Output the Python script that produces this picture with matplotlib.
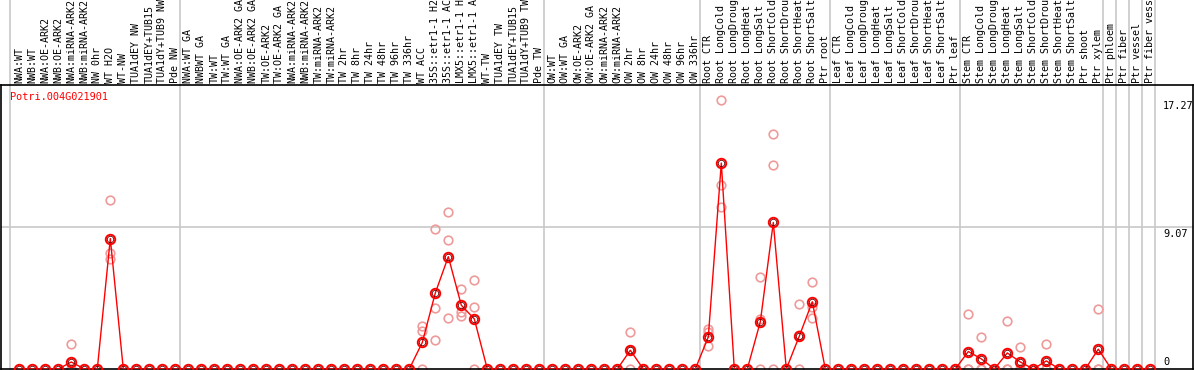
import matplotlib
matplotlib.use("Agg")
import matplotlib.pyplot as plt
import matplotlib.transforms as mtransforms

title = "Potri.004G021901"

labels = [
    "NWA:WT", "NWB:WT", "NWA:OE-ARK2", "NWB:OE-ARK2", "NWA:miRNA-ARK2", "NWB:miRNA-ARK2",
    "NW 0hr", "WT H2O", "WT-NW", "TUA1dEY NW", "TUA1dEY+TUB15", "TUA1dY+TUB9 NW", "Pde NW",
    "NWA:WT GA", "NWBWT GA", "TW:WT", "TW:WT GA", "NWA:OE-ARK2 GA", "NWB:OE-ARK2 GA",
    "TW:OE-ARK2", "TW:OE-ARK2 GA", "NWA:miRNA-ARK2", "NWB:miRNA-ARK2", "TW:miRNA-ARK2",
    "TW:miRNA-ARK2", "TW 2hr", "TW 8hr", "TW 24hr", "TW 48hr", "TW 96hr", "TW 336hr",
    "WT ACC", "35S::etr1-1 H2", "35S::etr1-1 AC", "LMX5::etr1-1 H", "LMX5::etr1-1 A",
    "WT-TW", "TUA1dEY TW", "TUA1dEY+TUB15", "TUA1dY+TUB9 TW", "Pde TW",
    "OW:WT", "OW:WT GA", "OW:OE-ARK2", "OW:OE-ARK2 GA", "OW:miRNA-ARK2", "OW:miRNA-ARK2",
    "OW 2hr", "OW 8hr", "OW 24hr", "OW 48hr", "OW 96hr", "OW 336hr",
    "Root CTR", "Root LongCold", "Root LongDroug", "Root LongHeat", "Root LongSalt",
    "Root ShortCold", "Root ShortDrou", "Root ShortHeat", "Root ShortSalt", "Ptr root",
    "Leaf CTR", "Leaf LongCold", "Leaf LongDroug", "Leaf LongHeat", "Leaf LongSalt",
    "Leaf ShortCold", "Leaf ShortDrou", "Leaf ShortHeat", "Leaf ShortSalt", "Ptr leaf",
    "Stem CTR", "Stem LongCold", "Stem LongDroug", "Stem LongHeat", "Stem LongSalt",
    "Stem ShortCold", "Stem ShortDrou", "Stem ShortHeat", "Stem ShortSalt", "Ptr shoot",
    "Ptr xylem", "Ptr phloem", "Ptr fiber", "Ptr vessel", "Ptr fiber vess",
]

# mean expression values (non-listed samples are 0)
mean_index = [4, 7, 31, 32, 33, 34, 35, 47, 53, 54, 57, 58, 60, 61, 73, 74, 76, 77, 79, 83]
mean_value = [0.45, 8.36, 1.70, 4.87, 7.20, 4.09, 3.21, 1.20, 2.05, 13.2, 3.02, 9.39,
              2.11, 4.31, 1.12, 0.65, 1.03, 0.45, 0.52, 1.27]

# replicate values (three per sample)
rep1 = [1.58, 10.81, 2.78, 8.94, 10.04, 5.13, 5.71, 2.40, 2.54, 17.27, 5.90, 15.08,
        4.18, 5.60, 3.55, 2.06, 3.05, 1.42, 1.61, 3.85]
rep2 = [0.0, 7.41, 2.45, 3.90, 8.29, 3.68, 3.97, 1.20, 2.39, 11.82, 3.19, 13.07,
        2.15, 4.00, 0.0, 0.0, 0.0, 0.0, 0.0, 0.0]
rep3 = [0.0, 7.02, 0.0, 1.83, 3.26, 3.42, 0.0, 0.0, 1.45, 10.36, 0.0, 0.0,
        0.0, 3.27, 0.0, 0.0, 0.0, 0.0, 0.0, 0.0]

group_starts = [0, 13, 41, 53, 63, 73, 84, 85, 86, 87, 88]
ref_lines = [9.07]
axis_labels = ["17.27", "9.07", "0"]
axis_values = [17.27, 9.07, 0]

W, H = 1194, 370
fig = plt.figure(figsize=(W / 100, H / 100), dpi=100)
ax_left, ax_right, ax_top, ax_bottom = 1, 1192.7, 85, 369
ax = fig.add_axes([ax_left / W, (H - ax_bottom) / H,
                   (ax_right - ax_left) / W, (ax_bottom - ax_top) / H])

n = len(labels)
means = [0.0] * n
for i, v in zip(mean_index, mean_value):
    means[i] = v
x = list(range(n))

px_per_unit_x = 13.0
xmin = -(19.3 - ax_left) / px_per_unit_x
xmax = xmin + (ax_right - ax_left) / px_per_unit_x
ax.set_xlim(xmin, xmax)
ymax = 18.2
ax.set_ylim(0, ymax)

# grid / separators
for r in ref_lines:
    ax.axhline(r, color="#c8c8c8", lw=1.2, zorder=1)
axes_h = ax_bottom - ax_top
top_frac = ax_bottom / axes_h
for k, g in enumerate(group_starts):
    pos = g - (0.7 if k == 0 else 0.62)
    ax.axvline(pos, 0, top_frac, color="#c8c8c8", lw=1.2, clip_on=False, zorder=1)

# replicates
pink = "#ef9a9a"
for reps in (rep1, rep2, rep3):
    ax.plot(mean_index, reps, linestyle="none", marker="o", ms=6.2, mfc="none",
            mec=pink, mew=1.2, zorder=2)

# mean line
ax.plot(x, means, color="#ff0000", lw=1.0, zorder=3)
ax.plot(x, means, linestyle="none", marker="o", ms=6.8, mfc="none",
        mec="#ff0000", mew=1.4, zorder=4)
ax.plot(x, means, linestyle="none", marker="o", ms=4.6, mfc="none",
        mec="#660000", mew=0.6, zorder=5)

# labels above
mono = "DejaVu Sans Mono"
lab_y = (ax_bottom - 83) / axes_h
trans = mtransforms.blended_transform_factory(ax.transData, ax.transAxes)
for i, lab in enumerate(labels):
    ax.text(i, lab_y, lab, rotation=90, ha="center", va="bottom", fontsize=7.2,
            family=mono, transform=trans, clip_on=False)

# right-side axis value labels
lx = (1163 - ax_left) / (ax_right - ax_left)
trans2 = mtransforms.blended_transform_factory(ax.transAxes, ax.transData)
for lab, v in zip(axis_labels, axis_values):
    ax.text(lx, v + (0.12 if v == 0 else -0.12), lab, ha="left",
            va="bottom" if v == 0 else "top", fontsize=7.4, family=mono,
            transform=trans2)

fig.text(10 / W, 1 - 92 / H, title, color="#ff0000", fontsize=7.4, family=mono,
         ha="left", va="top")

ax.set_xticks([])
ax.set_yticks([])
for s in ax.spines.values():
    s.set_color("black")
    s.set_linewidth(1.2)

fig.savefig("out.png", dpi=100)
